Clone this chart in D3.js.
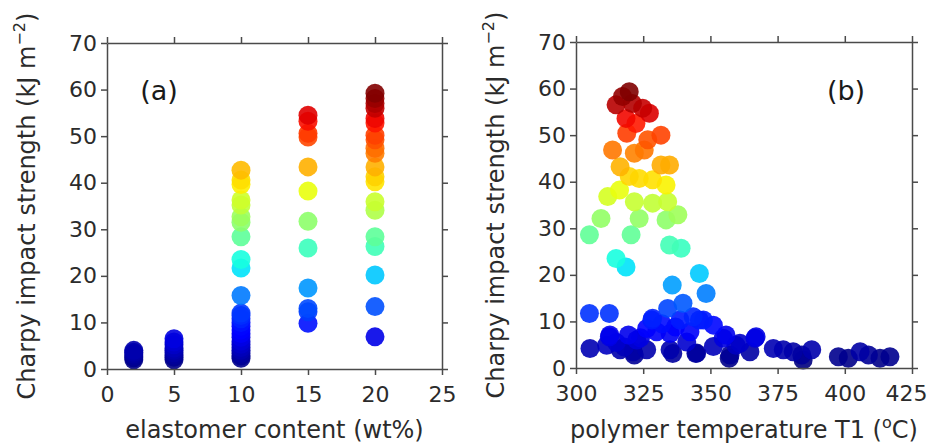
<!DOCTYPE html>
<html>
<head>
<meta charset="utf-8">
<script src="https://cdn.jsdelivr.net/npm/d3@7"></script>
<style>
  body { margin: 0; background: #fff; }
  svg { display: block; font-family: "DejaVu Sans", sans-serif; }
  .tick text { fill: #2b2b2b; }
</style>
</head>
<body>
<div id="chart"></div>
<script>
// panel (a): elastomer content groups and the strengths measured in each
const aGroups = [2, 5, 10, 15, 20]
const aValues = [
  [2.0, 2.4, 2.8, 3.2, 3.6, 4.0],
  [2.0, 2.5, 3.0, 3.5, 4.0, 4.5, 5.2, 5.8, 6.5],
  [2.3, 2.8, 3.4, 4.0, 4.6, 5.3, 6.0, 6.8, 7.6, 8.4, 9.2, 10.0, 10.8, 11.5, 12.0,
   15.8, 21.7, 23.5, 28.4, 31.5, 32.7, 35.2, 36.3, 39.6, 40.6, 42.7],
  [9.8, 12.3, 13.0, 17.4, 26.0, 31.7, 38.2, 43.4, 49.8, 50.6, 53.2, 54.5],
  [6.9, 13.4, 20.2, 26.3, 28.4, 34.1, 35.9, 40.2, 41.3, 43.4, 46.3, 47.4, 49.2,
   50.2, 52.8, 53.8, 56.0, 57.0, 58.1, 59.2]
]

// panel (b): polymer temperature T1 and strength
const bTemp = [
  319.8, 317.3, 314.9, 321.0, 324.8, 327.3, 318.6, 322.3, 318.9, 331.6, 326.7, 313.6,
  321.7, 325.4, 316.4, 331.6, 334.8, 319.8, 323.5, 328.5, 333.5, 316.2, 311.8, 321.7,
  328.5, 334.1, 309.3, 323.5, 333.5, 337.9, 305.0, 320.5, 334.8, 339.1, 314.9, 318.6,
  345.9, 335.8, 348.4, 339.8, 334.1, 305.0, 312.4, 328.2, 326.3, 338.7, 343.6, 347.4,
  351.1, 328.5, 345.9, 312.6, 319.5, 322.6, 330.0, 335.0, 342.4, 312.4, 305.2, 311.4,
  316.4, 321.3, 326.3, 335.0, 341.2, 344.9, 351.1, 354.8, 357.3, 361.0, 355.8, 359.5,
  357.0, 321.7, 336.0, 344.6, 366.6, 364.7, 367.0, 373.4, 377.1, 380.8, 384.0, 387.7,
  384.5, 397.6, 401.3, 405.7, 408.8, 413.1, 416.8, 332.0, 337.0, 324.0, 315.0, 318.0
]
const bStrength = [
  59.3, 58.3, 56.5, 56.8, 55.8, 54.7, 53.6, 52.5, 50.4, 50.0, 49.0, 46.8,
  46.1, 46.8, 43.2, 43.6, 43.6, 41.1, 40.7, 40.4, 39.3, 38.2, 36.8, 35.7,
  35.4, 35.7, 32.1, 32.1, 31.8, 32.9, 28.6, 28.6, 26.4, 25.7, 23.5, 21.7,
  20.3, 17.8, 16.0, 13.9, 12.8, 11.7, 11.7, 10.3, 8.5, 10.3, 11.0, 10.3,
  9.2, 10.7, 10.3, 7.1, 7.1, 6.0, 7.8, 7.4, 7.8, 6.7, 4.2, 4.9,
  3.9, 3.5, 3.9, 3.9, 5.6, 3.2, 4.6, 6.4, 2.8, 5.3, 7.1, 4.9,
  2.1, 2.8, 3.1, 3.1, 6.4, 3.5, 6.7, 4.2, 3.9, 3.5, 2.8, 3.9,
  1.7, 2.4, 2.1, 3.5, 2.8, 2.1, 2.4, 9.5, 8.8, 6.5, 5.5, 4.5
]

const aTicks = [0, 5, 10, 15, 20, 25]
const bTicks = [300, 325, 350, 375, 400, 425]
const yTicks = [0, 10, 20, 30, 40, 50, 60, 70]

// matplotlib "jet" colormap
const jetSeg = {
  r: [[0, 0], [0.35, 0], [0.66, 1], [0.89, 1], [1, 0.5]],
  g: [[0, 0], [0.125, 0], [0.375, 1], [0.64, 1], [0.91, 0], [1, 0]],
  b: [[0, 0.5], [0.11, 1], [0.34, 1], [0.65, 0], [1, 0]]
}
function seg(pts, t) {
  for (let i = 1; i < pts.length; i++) {
    if (t <= pts[i][0]) {
      const [x0, y0] = pts[i - 1], [x1, y1] = pts[i]
      return y0 + (y1 - y0) * (t - x0) / (x1 - x0)
    }
  }
  return pts[pts.length - 1][1]
}
function jet(t) {
  t = Math.max(0, Math.min(1, t))
  return d3.rgb(seg(jetSeg.r, t) * 255, seg(jetSeg.g, t) * 255, seg(jetSeg.b, t) * 255).toString()
}

const allStrength = aValues.flat().concat(bStrength)
const color = d3.scaleSequential(jet).domain([d3.min(allStrength), d3.max(allStrength)])

const svg = d3.select('#chart').append('svg')
  .attr('width', 932)
  .attr('height', 447)

const axisColor = '#4a4a4a'

function drawPanel(cfg) {
  const x = d3.scaleLinear().domain(cfg.xDomain).range([cfg.left, cfg.right])
  const y = d3.scaleLinear().domain([0, 70]).range([cfg.bottom, cfg.top])

  const g = svg.append('g')

  // points, low values first so the high ones sit on top
  const pts = cfg.points.slice().sort((p, q) => p.v - q.v)
  g.selectAll('circle')
    .data(pts)
    .enter()
    .append('circle')
    .attr('cx', d => x(d.x))
    .attr('cy', d => y(d.v))
    .attr('r', 9.5)
    .attr('fill', d => color(d.v))
    .attr('fill-opacity', 0.9)

  const bottomAxis = g.append('g')
    .attr('transform', `translate(0, ${cfg.bottom})`)
    .call(d3.axisBottom(x).tickValues(cfg.xTicks).tickSizeInner(6).tickSizeOuter(0).tickPadding(11))
  const leftAxis = g.append('g')
    .attr('transform', `translate(${cfg.left}, 0)`)
    .call(d3.axisLeft(y).tickValues(yTicks).tickSizeInner(6).tickSizeOuter(0).tickPadding(4))
  const topAxis = g.append('g')
    .attr('transform', `translate(0, ${cfg.top})`)
    .call(d3.axisTop(x).tickValues(cfg.xTicks).tickSizeInner(6).tickSizeOuter(0).tickFormat(''))
  const rightAxis = g.append('g')
    .attr('transform', `translate(${cfg.right}, 0)`)
    .call(d3.axisRight(y).tickValues(yTicks).tickSizeInner(6).tickSizeOuter(0).tickFormat(''))

  ;[bottomAxis, leftAxis, topAxis, rightAxis].forEach(ax => {
    ax.selectAll('path, line').attr('stroke', axisColor).attr('stroke-width', 1.5)
    ax.selectAll('text').style('font-size', '22px').style('font-family', '"DejaVu Sans", sans-serif')
  })
  // last x tick label sits at the page edge, pull it in a little
  bottomAxis.selectAll('.tick:last-of-type text').attr('dx', cfg.lastTickShift || 0)

  // panel tag
  g.append('text')
    .attr('x', cfg.tagX)
    .attr('y', 100)
    .attr('text-anchor', 'middle')
    .style('font-size', '27px')
    .attr('fill', '#1a1a1a')
    .text(cfg.tag)

  // y label with superscript
  const ylab = g.append('text')
    .attr('transform', `translate(${cfg.yLabelX}, ${(cfg.top + cfg.bottom) / 2}) rotate(-90)`)
    .attr('text-anchor', 'middle')
    .style('font-size', '24px')
    .attr('fill', '#2b2b2b')
  ylab.append('tspan').text('Charpy impact strength (kJ m')
  ylab.append('tspan').attr('dy', -10).style('font-size', '16px').text('\u22122')
  ylab.append('tspan').attr('dy', 10).text(')')

  // x label
  const xlab = g.append('text')
    .attr('x', (cfg.left + cfg.right) / 2)
    .attr('y', 438)
    .attr('text-anchor', 'middle')
    .style('font-size', '24px')
    .attr('fill', '#2b2b2b')
  cfg.xLabel(xlab)
}

const aPoints = []
aGroups.forEach((c, i) => aValues[i].forEach(v => aPoints.push({ x: c, v: v })))
const bPoints = bTemp.map((t, i) => ({ x: t, v: bStrength[i] }))

drawPanel({
  points: aPoints,
  xDomain: [0, 25], xTicks: aTicks,
  left: 107, right: 442, top: 43, bottom: 369,
  tag: '(a)', tagX: 159, yLabelX: 35,
  xLabel: t => t.text('elastomer content (wt%)')
})

drawPanel({
  points: bPoints,
  xDomain: [300, 425], xTicks: bTicks,
  left: 576, right: 912, top: 42, bottom: 368,
  tag: '(b)', tagX: 846, yLabelX: 504, lastTickShift: -6,
  xLabel: t => {
    t.append('tspan').text('polymer temperature T1 (')
    t.append('tspan').attr('dy', -10).style('font-size', '16px').text('o')
    t.append('tspan').attr('dy', 10).text('C)')
  }
})
</script>
</body>
</html>
